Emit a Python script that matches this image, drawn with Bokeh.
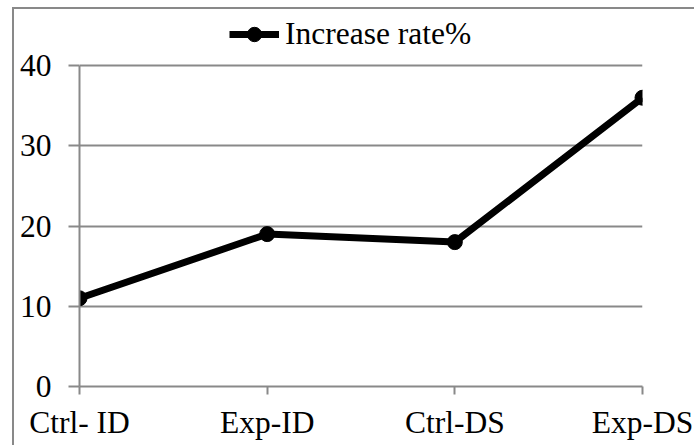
from bokeh.plotting import figure
from bokeh.models import Legend, LegendItem, FixedTicker, Range1d
from bokeh.embed import file_html
from bokeh.resources import INLINE

categories = ["Ctrl- ID", "Exp-ID", "Ctrl-DS", "Exp-DS"]
increase_rate = [11, 19, 18, 36]
y_ticks = [0, 10, 20, 30, 40]
series_name = "Increase rate%"

x_pos = list(range(len(categories)))

FONT = "Liberation Serif"
FS = "31.5px"
GRAY = "#898989"

p = figure(width=682, height=438, output_backend="svg", toolbar_location=None,
           x_range=Range1d(0, len(categories) - 1), y_range=Range1d(0, 47),
           min_border_left=65, min_border_right=54, min_border_top=0, min_border_bottom=61)
p.styles = {"border-left": "2px solid #898989", "border-top": "2px solid #898989",
            "margin-left": "12px", "margin-top": "7px"}
p.outline_line_color = None
p.background_fill_color = "white"
p.border_fill_color = "white"

line_r = p.line(x_pos, increase_rate, line_color="black", line_width=7)
dot_r = p.scatter(x_pos, increase_rate, size=15, fill_color="black", line_color="black")

# x axis
xa = p.xaxis[0]
xa.ticker = FixedTicker(ticks=x_pos)
xa.major_label_overrides = {i: c for i, c in zip(x_pos, categories)}
xa.minor_tick_line_color = None
xa.major_tick_in = 0
xa.major_tick_out = 8
xa.axis_line_color = GRAY
xa.axis_line_width = 2
xa.major_tick_line_color = GRAY
xa.major_tick_line_width = 2
xa.major_label_text_font = FONT
xa.major_label_text_font_size = FS
xa.major_label_text_color = "black"
xa.major_label_standoff = 10

# y axis
ya = p.yaxis[0]
ya.ticker = FixedTicker(ticks=y_ticks)
ya.bounds = (y_ticks[0], y_ticks[-1])
ya.minor_tick_line_color = None
ya.major_tick_in = 0
ya.major_tick_out = 11
ya.axis_line_color = GRAY
ya.axis_line_width = 2
ya.major_tick_line_color = GRAY
ya.major_tick_line_width = 2
ya.major_label_text_font = FONT
ya.major_label_text_font_size = FS
ya.major_label_text_color = "black"
ya.major_label_standoff = 17

p.xgrid.grid_line_color = None
yg = p.ygrid[0]
yg.grid_line_color = GRAY
yg.grid_line_width = 2

legend = Legend(items=[LegendItem(label=series_name, renderers=[line_r, dot_r])],
                location=(150, 334), orientation="horizontal",
                label_text_font=FONT, label_text_font_size=FS, label_text_color="black",
                glyph_width=50, glyph_height=36, label_standoff=6,
                padding=0, margin=0, border_line_color=None, background_fill_alpha=0)
p.add_layout(legend)

open("out.html", "w").write(file_html(p, INLINE))
